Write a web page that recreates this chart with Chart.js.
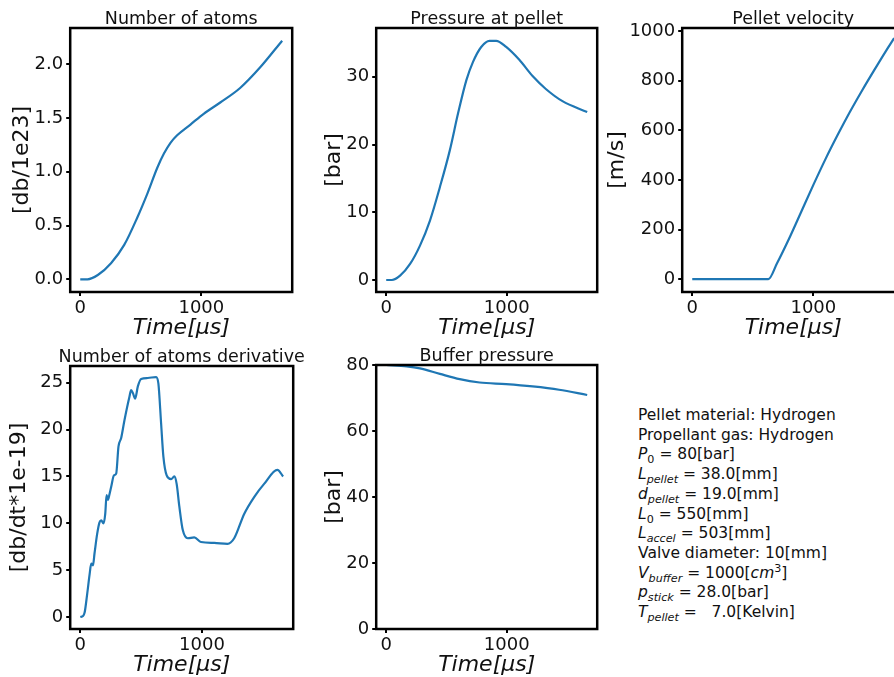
<!DOCTYPE html>
<html>
<head>
<meta charset="utf-8">
<script src="https://cdn.jsdelivr.net/npm/chart.js@4"></script>
<style>
  html, body { margin: 0; padding: 0; width: 894px; height: 677px; overflow: hidden; background: #fff; }
  .panel { position: absolute; }
  #info {
    position: absolute; left: 638px; top: 406px;
    font-family: 'DejaVu Sans', sans-serif; font-size: 15.5px; line-height: 19.7px;
    color: #111; white-space: pre;
  }
  #info i { font-style: italic; }
  #info .sb { font-size: 0.72em; vertical-align: -0.32em; line-height: 0; }
  #info .sp { font-size: 0.72em; vertical-align: 0.5em; line-height: 0; }
</style>
</head>
<body>
<div id="p1" class="panel"><canvas></canvas></div>
<div id="p2" class="panel"><canvas></canvas></div>
<div id="p3" class="panel"><canvas></canvas></div>
<div id="p4" class="panel"><canvas></canvas></div>
<div id="p5" class="panel"><canvas></canvas></div>
<div id="info">Pellet material: Hydrogen
Propellant gas: Hydrogen
<i>P</i><span class="sb">0</span> = 80[bar]
<i>L</i><span class="sb"><i>pellet</i></span> = 38.0[mm]
<i>d</i><span class="sb"><i>pellet</i></span> = 19.0[mm]
<i>L</i><span class="sb">0</span> = 550[mm]
<i>L</i><span class="sb"><i>accel</i></span> = 503[mm]
Valve diameter: 10[mm]
<i>V</i><span class="sb"><i>buffer</i></span> = 1000[<i>cm</i><span class="sp">3</span>]
<i>p</i><span class="sb"><i>stick</i></span> = 28.0[bar]
<i>T</i><span class="sb"><i>pellet</i></span> =   7.0[Kelvin]</div>
<script>
// time axis shared by all panels
const timeTicks = [0, 1000];

const atomsTime = [0, 60, 145, 254, 363, 473, 555, 637, 691, 745, 800, 910, 1019, 1156, 1320, 1484, 1667];
const atomsValue = [0, 0, 0.04, 0.15, 0.32, 0.58, 0.80, 1.04, 1.17, 1.27, 1.34, 1.44, 1.54, 1.645, 1.78, 1.97, 2.22];
const atomsTicks = [0, 0.5, 1.0, 1.5, 2.0];

const pressureTime = [0, 47, 115, 198, 280, 363, 445, 527, 596, 665, 720, 788, 857, 912, 995, 1104, 1214, 1324, 1462, 1667];
const pressureValue = [0, 0, 0.64, 2.37, 5.08, 8.78, 13.7, 19.1, 24.6, 29.5, 32.2, 34.4, 35.3, 35.3, 34.4, 32.5, 30.1, 28.2, 26.4, 24.8];
const pressureTicks = [0, 10, 20, 30];

const velocityTime = [0, 628, 700, 800, 900, 1000, 1100, 1200, 1300, 1400, 1500, 1600, 1667];
const velocityValue = [0, 0, 64, 164, 272, 380, 484, 581, 673, 759, 841, 921, 972];
const velocityTicks = [0, 200, 400, 600, 800, 1000];

const derivTime = [0, 22, 36, 57, 77, 90, 104, 117, 139, 158, 172, 191, 205, 216, 227, 240, 254, 276, 295, 314, 336, 363, 404, 418, 432, 451, 473, 500, 555, 623, 642, 664, 683, 710, 746, 773, 792, 814, 842, 883, 937, 992, 1101, 1210, 1265, 1347, 1429, 1511, 1620, 1667];
const derivValue = [0, 0.1, 0.5, 2.5, 4.6, 5.7, 5.5, 6.8, 8.9, 10.1, 10.3, 10.0, 11.0, 13.0, 12.5, 13.1, 13.9, 15.1, 15.3, 18.2, 19.1, 21.0, 23.5, 24.2, 23.9, 23.3, 24.6, 25.4, 25.5, 25.6, 24.9, 20.7, 17.1, 15.1, 14.7, 15.0, 14.2, 11.8, 9.3, 8.4, 8.5, 8.0, 7.9, 7.8, 8.4, 11.0, 12.8, 14.2, 15.7, 15.0];
const derivTicks = [0, 5, 10, 15, 20, 25];

const bufferTime = [0, 170, 280, 445, 610, 775, 995, 1214, 1434, 1667];
const bufferValue = [80, 79.6, 79.0, 77.3, 75.7, 74.7, 74.2, 73.5, 72.5, 70.9];
const bufferTicks = [0, 20, 40, 60, 80];

Chart.defaults.font.family = "'DejaVu Sans', sans-serif";
Chart.defaults.color = '#111';

// axes box on all four sides plus the panel title, centred over the axes
const frame = {
    id: 'frame',
    afterDatasetsDraw(chart, args, opts) {
        const a = chart.chartArea;
        const ctx = chart.ctx;
        ctx.save();
        ctx.strokeStyle = '#000';
        ctx.lineWidth = 2.5;
        ctx.strokeRect(a.left, a.top, a.right - a.left, a.bottom - a.top);
        ctx.fillStyle = '#111';
        ctx.font = "17.5px 'DejaVu Sans', sans-serif";
        ctx.textAlign = 'center';
        ctx.textBaseline = 'alphabetic';
        ctx.fillText(opts.text, (a.left + a.right) / 2, a.top - 4.5);
        ctx.restore();
    }
};

function toPoints(xs, ys) {
    return xs.map((x, i) => ({ x: x, y: ys[i] }));
}

function makePanel(id, p) {
    const LH = 26.4; // 22px * 1.2
    const TH = 24;
    const RM = 16;
    const left = p.yLabelX - LH / 2;
    const top = p.box[1] - TH;
    const bottom = p.xLabelY + LH / 2;
    const right = p.box[2] + RM;
    const yWidth = p.box[0] - left;
    const xHeight = bottom - p.box[3];

    const el = document.getElementById(id);
    el.style.left = left + 'px';
    el.style.top = top + 'px';
    el.style.width = (right - left) + 'px';
    el.style.height = (bottom - top) + 'px';

    new Chart(el.querySelector('canvas'), {
        type: 'line',
        data: {
            datasets: [{
                data: toPoints(p.xs, p.ys),
                borderColor: '#1f77b4',
                borderWidth: 2.2,
                pointRadius: 0,
                fill: false,
                tension: 0,
                cubicInterpolationMode: 'monotone'
            }]
        },
        options: {
            responsive: true,
            maintainAspectRatio: false,
            animation: false,
            events: [],
            layout: { padding: { left: 0, top: TH, right: RM, bottom: 0 } },
            plugins: {
                legend: { display: false },
                tooltip: { enabled: false },
                title: { display: false },
                frame: { text: p.title }
            },
            scales: {
                x: {
                    type: 'linear',
                    min: -83,
                    max: 1750,
                    afterBuildTicks: s => { s.ticks = timeTicks.map(v => ({ value: v })); },
                    afterFit: s => { s.height = xHeight; },
                    ticks: { font: { size: 18 }, padding: 2, maxRotation: 0, callback: v => String(v) },
                    grid: { drawOnChartArea: false, drawTicks: true, tickLength: 4, color: '#000', lineWidth: 2 },
                    border: { display: false },
                    title: {
                        display: true,
                        text: 'Time[μs]',
                        font: { size: 22, style: 'italic' },
                        padding: { top: 0, bottom: 0 }
                    }
                },
                y: {
                    min: p.yMin,
                    max: p.yMax,
                    afterBuildTicks: s => { s.ticks = p.ticks.map(v => ({ value: v })); },
                    afterFit: s => { s.width = yWidth; },
                    ticks: { font: { size: 18 }, padding: 3, callback: p.fmt },
                    grid: { drawOnChartArea: false, drawTicks: true, tickLength: 4, color: '#000', lineWidth: 2 },
                    border: { display: false },
                    title: {
                        display: true,
                        text: p.yLabel,
                        font: { size: 22 },
                        padding: { top: 0, bottom: 0 }
                    }
                }
            }
        },
        plugins: [frame]
    });
}

makePanel('p1', {
    title: 'Number of atoms', yLabel: '[db/1e23]',
    box: [70, 28, 292, 292], yLabelX: 22, xLabelY: 328,
    xs: atomsTime, ys: atomsValue, ticks: atomsTicks,
    yMin: -0.118, yMax: 2.338, fmt: v => v.toFixed(1)
});
makePanel('p2', {
    title: 'Pressure at pellet', yLabel: '[bar]',
    box: [376, 28, 597, 292], yLabelX: 334, xLabelY: 328,
    xs: pressureTime, ys: pressureValue, ticks: pressureTicks,
    yMin: -1.77, yMax: 37.2, fmt: v => String(v)
});
makePanel('p3', {
    title: 'Pellet velocity', yLabel: '[m/s]',
    box: [682, 28, 904, 292], yLabelX: 617, xLabelY: 328,
    xs: velocityTime, ys: velocityValue, ticks: velocityTicks,
    yMin: -52, yMax: 1013, fmt: v => String(v)
});
makePanel('p4', {
    title: 'Number of atoms derivative', yLabel: '[db/dt*1e-19]',
    box: [70, 366, 293, 629], yLabelX: 19, xLabelY: 665,
    xs: derivTime, ys: derivValue, ticks: derivTicks,
    yMin: -1.28, yMax: 26.78, fmt: v => String(v)
});
makePanel('p5', {
    title: 'Buffer pressure', yLabel: '[bar]',
    box: [376, 365, 597, 629], yLabelX: 334, xLabelY: 665,
    xs: bufferTime, ys: bufferValue, ticks: bufferTicks,
    yMin: 0, yMax: 80, fmt: v => String(v)
});
</script>
</body>
</html>
